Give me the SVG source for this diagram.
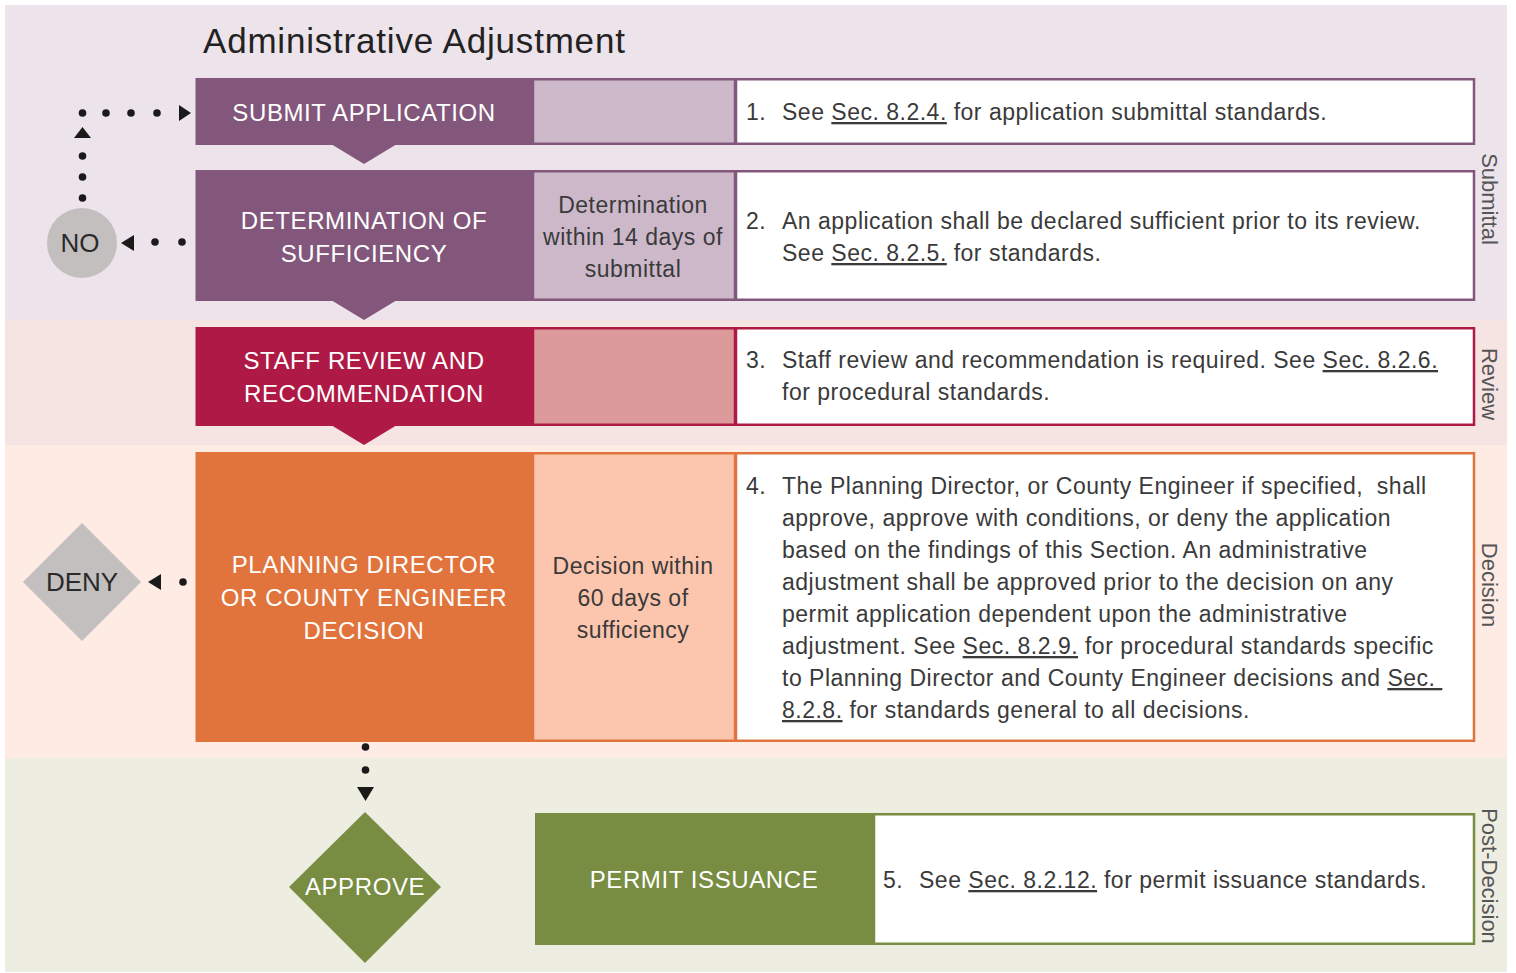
<svg xmlns="http://www.w3.org/2000/svg" width="1516" height="973" viewBox="0 0 1516 973">
<style>
.lbl{font-family:"Liberation Sans",Arial,sans-serif;font-size:24px;fill:#ffffff;text-anchor:middle;letter-spacing:0.6px}
.desc{font-family:"Liberation Sans",Arial,sans-serif;font-size:23px;fill:#3a3a3a;letter-spacing:0.5px}
.mid{font-family:"Liberation Sans",Arial,sans-serif;font-size:23px;fill:#3a3a3a;text-anchor:middle;letter-spacing:0.5px}
.side{font-family:"Liberation Sans",Arial,sans-serif;font-size:22px;fill:#555555;text-anchor:middle}
.dec{font-family:"Liberation Sans",Arial,sans-serif;font-size:26px;fill:#2a2a2a;text-anchor:middle}
.u{text-decoration:underline}
.dot{fill:#1a1a1a}
</style>
<g id="bands">
<rect x="5" y="5" width="1502" height="315" fill="#ede3eb"/>
<rect x="5" y="320" width="1502" height="125" fill="#f6e4e3"/>
<rect x="5" y="445" width="1502" height="313" fill="#fdebe4"/>
<rect x="5" y="758" width="1502" height="214" fill="#eeede2"/>
<text class="side" transform="translate(1482,199) rotate(90)">Submittal</text>
<text class="side" transform="translate(1482,384) rotate(90)">Review</text>
<text class="side" transform="translate(1482,585) rotate(90)">Decision</text>
<text class="side" transform="translate(1482,876) rotate(90)">Post-Decision</text>
</g>
<text id="title" x="203" y="53" font-family="Liberation Sans, Arial, sans-serif" font-size="35" fill="#222222" letter-spacing="0.8">Administrative Adjustment</text>

<g id="submit-application">
<rect x="195.5" y="78" width="337" height="67" fill="#83577b"/>
<polygon points="331,144 397,144 364,164" fill="#83577b"/>
<rect x="533" y="79.25" width="202" height="64.5" fill="#cdb8ca" stroke="#83577b" stroke-width="2.5"/>
<rect x="736" y="79.25" width="738" height="64.5" fill="#ffffff" stroke="#83577b" stroke-width="2.5"/>
<text class="lbl" x="364" y="121">SUBMIT APPLICATION</text>
<text class="desc" x="746" y="120">1.</text>
<text class="desc" x="782" y="120">See <tspan class="u">Sec. 8.2.4.</tspan> for application submittal standards.</text>
</g>

<g id="determination-of-sufficiency">
<rect x="195.5" y="170" width="337" height="131" fill="#83577b"/>
<polygon points="331,300 397,300 364,320" fill="#83577b"/>
<rect x="533" y="171.25" width="202" height="128.5" fill="#cdb8ca" stroke="#83577b" stroke-width="2.5"/>
<rect x="736" y="171.25" width="738" height="128.5" fill="#ffffff" stroke="#83577b" stroke-width="2.5"/>
<text class="lbl" x="364" y="229">DETERMINATION OF</text>
<text class="lbl" x="364" y="262">SUFFICIENCY</text>
<text class="mid" x="633" y="213">Determination</text>
<text class="mid" x="633" y="245">within 14 days of</text>
<text class="mid" x="633" y="277">submittal</text>
<text class="desc" x="746" y="229">2.</text>
<text class="desc" x="782" y="229">An application shall be declared sufficient prior to its review.</text>
<text class="desc" x="782" y="261">See <tspan class="u">Sec. 8.2.5.</tspan> for standards.</text>
</g>

<g id="staff-review">
<rect x="195.5" y="327" width="337" height="99" fill="#ae1a45"/>
<polygon points="331,425 397,425 364,445" fill="#ae1a45"/>
<rect x="533" y="328.25" width="202" height="96.5" fill="#dc9a9b" stroke="#ae1a45" stroke-width="2.5"/>
<rect x="736" y="328.25" width="738" height="96.5" fill="#ffffff" stroke="#ae1a45" stroke-width="2.5"/>
<text class="lbl" x="364" y="369">STAFF REVIEW AND</text>
<text class="lbl" x="364" y="402">RECOMMENDATION</text>
<text class="desc" x="746" y="368">3.</text>
<text class="desc" x="782" y="368">Staff review and recommendation is required. See <tspan class="u">Sec. 8.2.6.</tspan></text>
<text class="desc" x="782" y="400">for procedural standards.</text>
</g>

<g id="decision">
<rect x="195.5" y="452" width="337" height="290" fill="#e1743c"/>
<rect x="533" y="453.25" width="202" height="287.5" fill="#fcc5ad" stroke="#e1743c" stroke-width="2.5"/>
<rect x="736" y="453.25" width="738" height="287.5" fill="#ffffff" stroke="#e1743c" stroke-width="2.5"/>
<text class="lbl" x="364" y="573">PLANNING DIRECTOR</text>
<text class="lbl" x="364" y="606">OR COUNTY ENGINEER</text>
<text class="lbl" x="364" y="639">DECISION</text>
<text class="mid" x="633" y="574">Decision within</text>
<text class="mid" x="633" y="606">60 days of</text>
<text class="mid" x="633" y="638">sufficiency</text>
<text class="desc" x="746" y="494">4.</text>
<text class="desc" x="782" y="494" xml:space="preserve">The Planning Director, or County Engineer if specified,  shall</text>
<text class="desc" x="782" y="526">approve, approve with conditions, or deny the application</text>
<text class="desc" x="782" y="558">based on the findings of this Section. An administrative</text>
<text class="desc" x="782" y="590">adjustment shall be approved prior to the decision on any</text>
<text class="desc" x="782" y="622">permit application dependent upon the administrative</text>
<text class="desc" x="782" y="654">adjustment. See <tspan class="u">Sec. 8.2.9.</tspan> for procedural standards specific</text>
<text class="desc" x="782" y="686" xml:space="preserve">to Planning Director and County Engineer decisions and <tspan class="u">Sec. </tspan></text>
<text class="desc" x="782" y="718"><tspan class="u">8.2.8.</tspan> for standards general to all decisions.</text>
</g>

<g id="permit-issuance">
<rect x="535" y="813" width="338" height="132" fill="#788c42"/>
<rect x="874" y="814.25" width="600" height="129.5" fill="#ffffff" stroke="#788c42" stroke-width="2.5"/>
<text class="lbl" x="704" y="888">PERMIT ISSUANCE</text>
<text class="desc" x="883" y="888">5.</text>
<text class="desc" x="919" y="888">See <tspan class="u">Sec. 8.2.12.</tspan> for permit issuance standards.</text>
</g>

<g id="no">
<circle cx="82" cy="243" r="35" fill="#c4bfbf"/>
<text class="dec" x="80" y="252">NO</text>
</g>

<g id="deny">
<polygon points="82,523 141,582 82,641 23,582" fill="#c4bfbf"/>
<text class="dec" x="82" y="591">DENY</text>
</g>

<g id="approve">
<polygon points="365,812 441,887 365,963 289,887" fill="#788c42"/>
<text class="lbl" x="365" y="895">APPROVE</text>
</g>

<g id="connectors">
<circle class="dot" cx="182" cy="242" r="3.8"/>
<circle class="dot" cx="155" cy="242" r="3.8"/>
<polygon class="dot" points="121,243 134,235 134,251"/>
<circle class="dot" cx="82.5" cy="198" r="3.8"/>
<circle class="dot" cx="82.5" cy="177" r="3.8"/>
<circle class="dot" cx="82.5" cy="156" r="3.8"/>
<polygon class="dot" points="74,138 91,138 82.5,127"/>
<circle class="dot" cx="82.5" cy="113" r="3.8"/>
<circle class="dot" cx="106" cy="113" r="3.8"/>
<circle class="dot" cx="131" cy="113" r="3.8"/>
<circle class="dot" cx="157" cy="113" r="3.8"/>
<polygon class="dot" points="179,105 191,113 179,121"/>
<circle class="dot" cx="183" cy="582" r="3.8"/>
<polygon class="dot" points="148,582 161,574 161,590"/>
<circle class="dot" cx="365.5" cy="747" r="3.8"/>
<circle class="dot" cx="365.5" cy="770" r="3.8"/>
<polygon class="dot" points="357,787 374,787 365.5,801"/>
</g>
</svg>
